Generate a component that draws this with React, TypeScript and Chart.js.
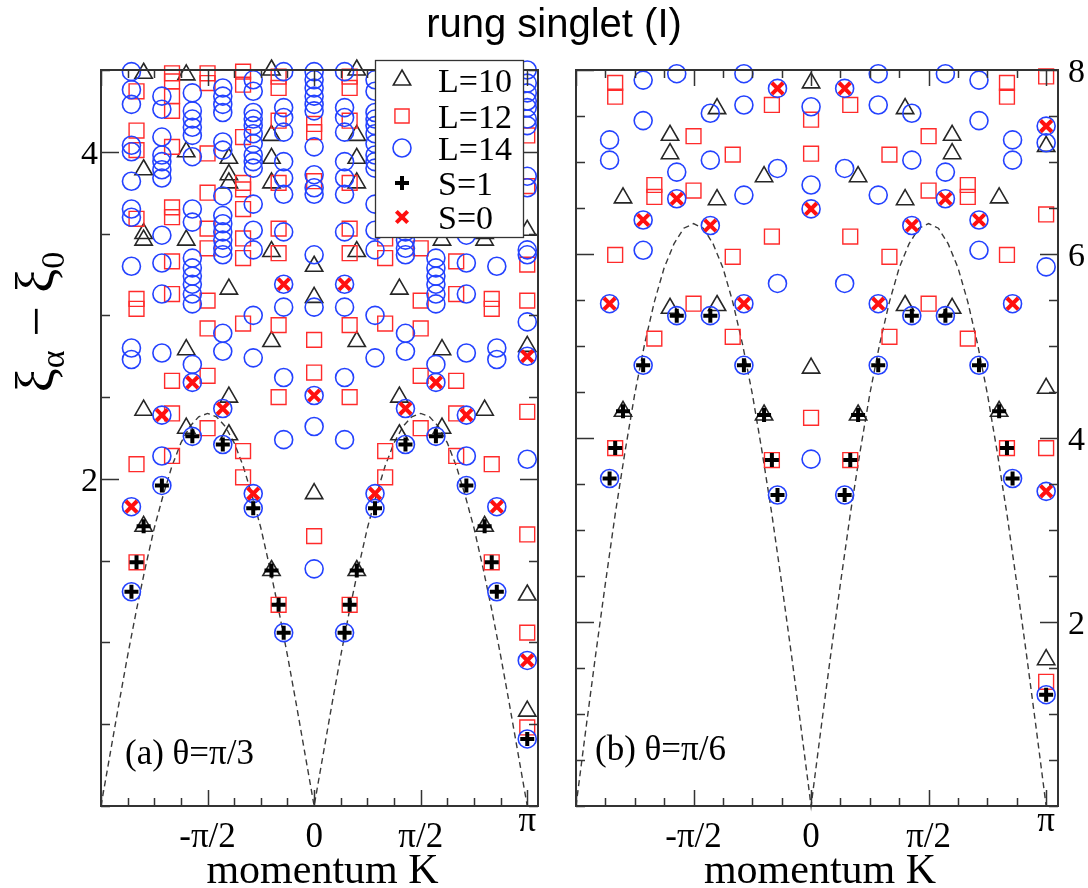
import React, { useEffect, useRef } from 'react';
import { Chart, registerables } from 'chart.js';

Chart.register(...registerables);

const PI = Math.PI;

// ---------- DATA ----------
// Levels are listed per momentum index n >= 0 (K = 2*pi*n/L); the spectrum is symmetric in K -> -K.
// Panel (a) theta = pi/3
const A_L10: number[][] = [
  [3.30, 3.11, 1.91],
  [4.50, 4.10, 3.96, 3.81, 3.39, 2.84, 1.44],
  [3.96, 3.86, 3.81, 3.16, 2.50, 2.27],
  [4.47, 4.00, 3.46, 2.79, 2.31],
  [4.48, 3.89, 3.50, 3.46, 2.42, 1.71],
  [3.52, 2.81, 1.29, 0.58],
];
const A_L12: number[][] = [
  [4.17, 4.12, 3.82, 2.85, 2.65, 1.65],
  [4.46, 4.39, 4.19, 3.81, 3.53, 3.38, 2.94, 2.50, 1.23],
  [4.49, 4.41, 4.09, 3.81, 3.77, 3.65, 3.47, 3.35, 2.95, 2.17, 2.01],
  [4.48, 4.42, 3.99, 3.75, 3.53, 3.41, 3.09, 2.92, 2.63, 2.31],
  [4.48, 4.43, 4.34, 4.25, 4.03, 3.66, 3.60, 3.33, 3.13, 2.60, 2.40, 2.14],
  [4.37, 4.13, 4.01, 3.59, 3.10, 3.04, 2.09, 1.49],
  [4.10, 3.79, 3.31, 3.09, 2.41, 1.66, 1.06, 0.48],
];
const A_L14: number[][] = [
  [4.49, 4.44, 4.39, 4.34, 4.29, 4.25, 4.03, 3.86, 3.78, 3.74, 3.37, 3.05, 2.51, 2.32, 1.45],
  [4.49, 4.27, 4.21, 4.12, 3.94, 3.84, 3.74, 3.51, 3.19, 3.05, 2.62, 2.24, 1.06],
  [4.44, 4.37, 4.24, 4.20, 4.16, 4.11, 4.05, 3.98, 3.94, 3.90, 3.68, 3.52, 3.40, 3.00, 2.74, 1.91, 1.82],
  [4.39, 4.34, 4.29, 4.24, 4.06, 4.01, 3.73, 3.61, 3.56, 3.51, 3.46, 3.41, 3.37, 2.89, 2.78, 2.43, 2.21],
  [4.36, 4.25, 4.20, 4.15, 4.10, 3.97, 3.65, 3.57, 3.35, 3.29, 3.24, 3.19, 3.13, 3.07, 2.70, 2.59, 2.26],
  [4.34, 4.26, 4.09, 3.98, 3.94, 3.89, 3.84, 3.49, 3.32, 3.13, 2.77, 2.39, 2.14, 1.96],
  [4.49, 4.38, 4.29, 4.04, 4.00, 3.82, 3.65, 3.60, 3.30, 2.80, 2.73, 1.83, 1.31],
  [4.50, 4.42, 4.36, 4.31, 4.27, 4.20, 4.16, 3.85, 3.78, 3.40, 3.37, 2.96, 2.75, 2.12, 0.89, 0.41],
];
// [L, n, value]
const A_S1: number[][] = [
  [14, 1, 1.06], [14, 2, 1.82], [14, 3, 2.21], [14, 4, 2.26], [14, 5, 1.96], [14, 6, 1.31], [14, 7, 0.41],
  [12, 1, 1.23], [12, 5, 1.49], [10, 1, 1.44], [10, 4, 1.71],
];
const A_S0: number[][] = [
  [14, 0, 2.51], [14, 1, 3.19], [14, 2, 1.91], [14, 3, 2.43], [14, 4, 2.59], [14, 5, 2.39],
  [14, 6, 1.83], [14, 7, 2.75], [14, 7, 0.89],
];
// dashed curve at K = k*pi/24, k = 0..12 (symmetric about pi/2 and 0)
const A_CURVE: number[] = [0, 0.31, 0.62, 0.92, 1.20, 1.46, 1.70, 1.90, 2.08, 2.22, 2.32, 2.38, 2.40];

// Panel (b) theta = pi/6
const B_L10: number[][] = [
  [7.86, 4.76],
  [6.84, 4.25],
  [7.58, 6.59, 5.44],
  [7.29, 7.09, 5.41],
  [6.61, 4.29],
  [7.17, 4.54, 1.59],
];
const B_L12: number[][] = [
  [7.46, 7.09, 4.22],
  [7.62, 6.19, 3.76],
  [7.08, 5.97, 5.10],
  [7.28, 6.69, 5.46],
  [6.75, 6.62, 5.08],
  [7.86, 7.71, 5.99, 3.89],
  [7.93, 6.43, 3.89, 1.35],
];
const B_L14: number[][] = [
  [7.60, 6.75, 6.49, 3.77],
  [7.80, 6.93, 5.68, 3.38],
  [7.96, 7.62, 6.64, 5.46, 4.79],
  [7.53, 7.02, 6.31, 5.33],
  [7.96, 6.89, 6.60, 5.33],
  [7.89, 7.45, 6.37, 6.04, 4.79],
  [7.24, 7.02, 5.46, 3.56],
  [7.39, 7.21, 5.86, 3.42, 1.21],
];
const B_S1: number[][] = [
  [14, 1, 3.38], [14, 2, 4.79], [14, 3, 5.33], [14, 4, 5.33], [14, 5, 4.79], [14, 6, 3.56], [14, 7, 1.21],
  [12, 1, 3.76], [12, 5, 3.89], [10, 1, 4.25], [10, 4, 4.29],
];
const B_S0: number[][] = [
  [14, 0, 6.49], [14, 1, 7.80], [14, 2, 5.46], [14, 3, 6.31], [14, 4, 6.60], [14, 5, 6.37],
  [14, 6, 5.46], [14, 7, 7.39], [14, 7, 3.42],
];
const B_CURVE: number[] = [0, 0.83, 1.64, 2.42, 3.17, 3.85, 4.48, 5.02, 5.48, 5.85, 6.11, 6.28, 6.33];

const X_TICK_VALUES = [-PI / 2, 0, PI / 2, PI];
const X_TICK_LABELS = ['-π/2', '0', 'π/2', 'π'];
const A_Y_LABELS = [2, 4];
const B_Y_LABELS = [2, 4, 6, 8];
const LEGEND_LABELS = ['L=10', 'L=12', 'L=14', 'S=1', 'S=0'];
const TITLE = 'rung singlet (I)';
const X_TITLE = 'momentum K';

// ---------- helpers ----------
function levelPoints(L: number, rows: number[][]) {
  const pts: { x: number; y: number }[] = [];
  rows.forEach((vals, n) => {
    const ns = n === 0 || 2 * n === L ? [n] : [n, -n];
    ns.forEach((m) => vals.forEach((v) => pts.push({ x: (2 * PI * m) / L, y: v })));
  });
  return pts;
}
function markPoints(list: number[][]) {
  const pts: { x: number; y: number }[] = [];
  list.forEach(([L, n, v]) => {
    const ns = n === 0 || 2 * n === L ? [n] : [n, -n];
    ns.forEach((m) => pts.push({ x: (2 * PI * m) / L, y: v }));
  });
  return pts;
}
function curvePoints(q: number[]) {
  const pts: { x: number; y: number }[] = [];
  for (let k = -24; k <= 24; k++) {
    const a = Math.abs(k);
    const idx = a <= 12 ? a : 24 - a;
    pts.push({ x: (k * PI) / 24, y: q[idx] });
  }
  return pts;
}

const COL_TRI = '#262626';
const COL_SQ = '#ff2b2b';
const COL_CIR = '#2442ff';
const COL_S1 = '#000000';
const COL_S0 = '#ff1010';
const SERIF = '"Liberation Serif", "DejaVu Serif", serif';
const SANS = '"Liberation Sans", Arial, sans-serif';

function drawMark(ctx: CanvasRenderingContext2D, style: string, x: number, y: number, r: number, color: string, lw: number) {
  ctx.beginPath();
  ctx.strokeStyle = color;
  ctx.lineWidth = lw;
  if (style === 'triangle') {
    ctx.moveTo(x, y - r);
    ctx.lineTo(x + r * 0.866, y + r * 0.5);
    ctx.lineTo(x - r * 0.866, y + r * 0.5);
    ctx.closePath();
  } else if (style === 'rect') {
    const s = r * 0.7071;
    ctx.rect(x - s, y - s, 2 * s, 2 * s);
  } else if (style === 'circle') {
    ctx.arc(x, y, r, 0, 2 * PI);
  } else if (style === 'cross') {
    ctx.moveTo(x - r, y);
    ctx.lineTo(x + r, y);
    ctx.moveTo(x, y - r);
    ctx.lineTo(x, y + r);
  } else {
    const d = r * 0.7071;
    ctx.moveTo(x - d, y - d);
    ctx.lineTo(x + d, y + d);
    ctx.moveTo(x + d, y - d);
    ctx.lineTo(x - d, y + d);
  }
  ctx.stroke();
}

interface PanelCfg {
  pad: { left: number; right: number; top: number; bottom: number };
  yMax: number;
  yMajor: number[];
  yLabels: number[];
  labelSide: 'left' | 'right';
  panelText: string;
  panelTextPos: [number, number];
  first: boolean;
}

const PANEL_A: PanelCfg = {
  pad: { left: 101, right: 550, top: 70, bottom: 82 },
  yMax: 4.5,
  yMajor: [2, 4],
  yLabels: A_Y_LABELS,
  labelSide: 'left',
  panelText: '(a) θ=π/3',
  panelTextPos: [125, 764],
  first: true,
};
const PANEL_B: PanelCfg = {
  pad: { left: 576, right: 30, top: 70, bottom: 82 },
  yMax: 8,
  yMajor: [2, 4, 6, 8],
  yLabels: B_Y_LABELS,
  labelSide: 'right',
  panelText: '(b) θ=π/6',
  panelTextPos: [595, 760],
  first: false,
};

function overlayPlugin(cfg: PanelCfg) {
  return {
    id: 'overlay',
    afterDraw(chart: any) {
      const ctx: CanvasRenderingContext2D = chart.ctx;
      const ca = chart.chartArea;
      const xs = chart.scales.x;
      const ys = chart.scales.y;
      ctx.save();
      // frame
      ctx.strokeStyle = '#333';
      ctx.lineWidth = 2;
      ctx.strokeRect(ca.left, ca.top, ca.right - ca.left, ca.bottom - ca.top);
      // x ticks (inward, top and bottom)
      ctx.lineWidth = 1.5;
      for (let k = -8; k <= 8; k++) {
        const px = Math.round(xs.getPixelForValue((k * PI) / 8)) + 0.5;
        const len = k % 4 === 0 ? 16 : 8;
        ctx.beginPath();
        ctx.moveTo(px, ca.bottom);
        ctx.lineTo(px, ca.bottom - len);
        ctx.moveTo(px, ca.top);
        ctx.lineTo(px, ca.top + len);
        ctx.stroke();
      }
      // y ticks (inward, left and right)
      for (let i = 0; i * 0.5 <= cfg.yMax + 1e-9; i++) {
        const v = i * 0.5;
        const py = Math.round(ys.getPixelForValue(v)) + 0.5;
        const len = cfg.yMajor.includes(v) ? 18 : 9;
        ctx.beginPath();
        ctx.moveTo(ca.left, py);
        ctx.lineTo(ca.left + len, py);
        ctx.moveTo(ca.right, py);
        ctx.lineTo(ca.right - len, py);
        ctx.stroke();
      }
      // tick labels
      ctx.fillStyle = '#000';
      ctx.font = `35px ${SERIF}`;
      ctx.textBaseline = 'alphabetic';
      ctx.textAlign = 'center';
      X_TICK_VALUES.forEach((v, i) => {
        const px = xs.getPixelForValue(v);
        const base = X_TICK_LABELS[i] === 'π' ? ca.bottom + 25 : ca.bottom + 41;
        ctx.fillText(X_TICK_LABELS[i], px, base);
      });
      ctx.font = `34px ${SERIF}`;
      cfg.yLabels.forEach((v) => {
        const py = ys.getPixelForValue(v);
        if (cfg.labelSide === 'left') {
          ctx.textAlign = 'right';
          ctx.fillText(String(v), ca.left - 3, py + 12);
        } else {
          ctx.textAlign = 'left';
          ctx.fillText(String(v), ca.right + 10, py + 12);
        }
      });
      // x title
      ctx.textAlign = 'center';
      ctx.font = `42px ${SERIF}`;
      ctx.fillText(X_TITLE, (ca.left + ca.right) / 2 + 3, ca.bottom + 77);
      // panel label
      ctx.textAlign = 'left';
      ctx.font = `35px ${SERIF}`;
      ctx.fillText(cfg.panelText, cfg.panelTextPos[0], cfg.panelTextPos[1]);

      if (cfg.first) {
        // title
        ctx.textAlign = 'center';
        ctx.font = `40px ${SANS}`;
        ctx.fillText(TITLE, 554, 37);
        // y axis title  xi_alpha - xi_0 (rotated)
        ctx.save();
        ctx.translate(54, 322);
        ctx.rotate(-PI / 2);
        ctx.textAlign = 'left';
        const big = `54px ${SERIF}`;
        const small = `34px ${SERIF}`;
        const parts: [string, string, number][] = [
          ['ξ', big, 0], ['α', small, 10], [' − ', big, 0], ['ξ', big, 0], ['0', small, 10],
        ];
        let total = 0;
        parts.forEach(([t, f]) => { ctx.font = f; total += ctx.measureText(t).width; });
        let u = -total / 2;
        parts.forEach(([t, f, dy]) => {
          ctx.font = f;
          ctx.fillText(t, u, dy);
          u += ctx.measureText(t).width;
        });
        ctx.restore();
        // legend
        ctx.fillStyle = '#fff';
        ctx.fillRect(375, 60, 148, 177);
        ctx.strokeStyle = '#333';
        ctx.lineWidth = 1.3;
        ctx.strokeRect(375.5, 60.5, 148, 177);
        const rows: [string, number, number, string, number][] = [
          ['triangle', 80, 10, COL_TRI, 1.6],
          ['rect', 116, 10, COL_SQ, 1.4],
          ['circle', 148, 9, COL_CIR, 1.6],
          ['cross', 183, 7, COL_S1, 4],
          ['crossRot', 217, 8, COL_S0, 4],
        ];
        ctx.font = `34px ${SERIF}`;
        ctx.textAlign = 'left';
        rows.forEach(([st, y, r, c, lw], i) => {
          drawMark(ctx, st, 402, y, r, c, lw);
          ctx.fillStyle = '#000';
          ctx.fillText(LEGEND_LABELS[i], 438, y + 12);
        });
      }
      ctx.restore();
    },
  };
}

function buildPanel(canvas: HTMLCanvasElement, cfg: PanelCfg, l10: number[][], l12: number[][], l14: number[][], s1: number[][], s0: number[][], curve: number[]) {
  const clear = 'rgba(0,0,0,0)';
  return new Chart(canvas, {
    type: 'scatter',
    data: {
      datasets: [
        { label: 'L=10', data: levelPoints(10, l10), pointStyle: 'triangle', pointRadius: 10, borderColor: COL_TRI, backgroundColor: clear, borderWidth: 1.6, order: 5, clip: false } as any,
        { label: 'L=12', data: levelPoints(12, l12), pointStyle: 'rect', pointRadius: 10.5, borderColor: COL_SQ, backgroundColor: clear, borderWidth: 1.4, order: 4, clip: false } as any,
        { label: 'L=14', data: levelPoints(14, l14), pointStyle: 'circle', pointRadius: 9, borderColor: COL_CIR, backgroundColor: clear, borderWidth: 1.6, order: 3, clip: false } as any,
        { label: 'S=1', data: markPoints(s1), pointStyle: 'cross', pointRadius: 7, borderColor: COL_S1, backgroundColor: clear, borderWidth: 4, order: 2, clip: false } as any,
        { label: 'S=0', data: markPoints(s0), pointStyle: 'crossRot', pointRadius: 8, borderColor: COL_S0, backgroundColor: clear, borderWidth: 4, order: 1, clip: false } as any,
        { label: 'curve', data: curvePoints(curve), showLine: true, pointRadius: 0, borderColor: '#3a3a3a', borderWidth: 1.4, borderDash: [6, 4], order: 6, clip: false } as any,
      ],
    },
    options: {
      responsive: false,
      animation: false,
      devicePixelRatio: 1,
      events: [],
      layout: { padding: cfg.pad },
      scales: {
        x: { type: 'linear', min: -PI, max: 3.3, display: false },
        y: { type: 'linear', min: 0, max: cfg.yMax, display: false },
      },
      plugins: { legend: { display: false }, tooltip: { enabled: false } },
    },
    plugins: [overlayPlugin(cfg)],
  } as any);
}

export default function App() {
  const refA = useRef<HTMLCanvasElement>(null);
  const refB = useRef<HTMLCanvasElement>(null);
  useEffect(() => {
    document.body.style.margin = '0';
    const a = buildPanel(refA.current!, PANEL_A, A_L10, A_L12, A_L14, A_S1, A_S0, A_CURVE);
    const b = buildPanel(refB.current!, PANEL_B, B_L10, B_L12, B_L14, B_S1, B_S0, B_CURVE);
    return () => {
      a.destroy();
      b.destroy();
    };
  }, []);
  return (
    <div style={{ position: 'absolute', left: 0, top: 0, width: 1088, height: 888, background: '#fff' }}>
      <canvas ref={refA} width={1088} height={888} style={{ position: 'absolute', left: 0, top: 0 }} />
      <canvas ref={refB} width={1088} height={888} style={{ position: 'absolute', left: 0, top: 0 }} />
    </div>
  );
}
